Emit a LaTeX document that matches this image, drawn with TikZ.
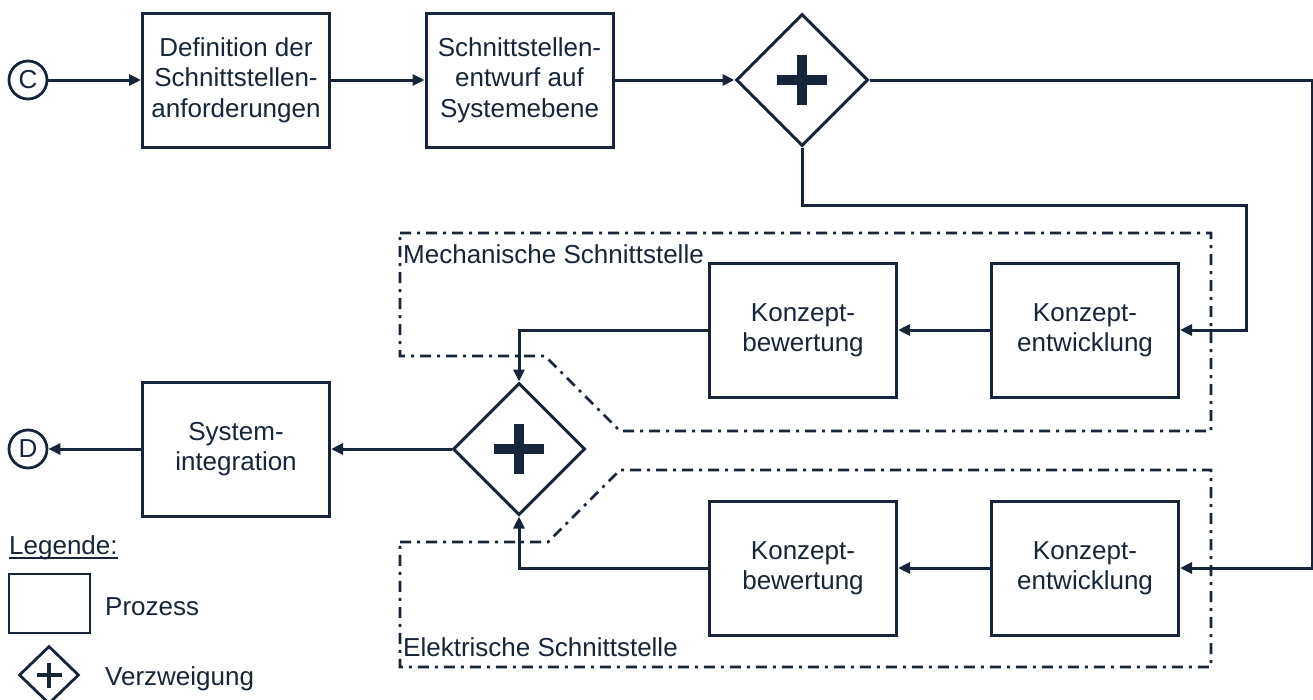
\documentclass[tikz,border=0pt]{standalone}
\usepackage{fontspec}
\setmainfont{Liberation Sans}
\usetikzlibrary{shapes.geometric,arrows.meta}
\definecolor{ink}{HTML}{16253A}

\begin{document}
\begin{tikzpicture}[x=1pt,y=-1pt,
  every node/.style={text=ink},
  txt/.style={font=\fontsize{26}{30.5}\selectfont},
  procbox/.style={txt, draw=ink, line width=3pt, minimum width=187pt,
    minimum height=134pt, align=center, inner sep=0pt},
  gate/.style={draw=ink, line width=3pt, diamond, minimum width=132pt,
    minimum height=132pt, inner sep=0pt},
  plusbar/.style={draw=ink, line width=10pt},
  endpoint/.style={txt, circle, draw=ink, line width=2.8pt, minimum size=38pt,
    inner sep=0pt},
  flow/.style={draw=ink, line width=3pt,
    -{Triangle[length=12pt,width=11pt]}},
  region/.style={draw=ink, line width=2.7pt,
    dash pattern=on 11pt off 6pt on 3pt off 6pt},
  label/.style={txt, inner sep=0pt}
]
\useasboundingbox (0,0) rectangle (1313,699);

% upper row
\node[endpoint] (C) at (28,80) {C};
\node[procbox] (b1) at (236,80) {Definition der\\Schnittstellen-\\anforderungen};
\node[procbox] (b2) at (519.5,80) {Schnittstellen-\\entwurf auf\\Systemebene};
\node[gate] (g1) at (802,80) {};
\draw[plusbar] (g1.center) +(-25,0) -- +(25,0) (g1.center) +(0,-25) -- +(0,25);

% mechanical interface branch
\node[procbox] (ke1) at (1085,330) {Konzept-\\entwicklung};
\node[procbox] (kb1) at (803,330) {Konzept-\\bewertung};

% electrical interface branch
\node[procbox] (ke2) at (1085,568) {Konzept-\\entwicklung};
\node[procbox] (kb2) at (803,568) {Konzept-\\bewertung};

% merge and integration
\node[gate] (g2) at (519,449) {};
\draw[plusbar] (g2.center) +(-25,0) -- +(25,0) (g2.center) +(0,-25) -- +(0,25);
\node[procbox] (si) at (236,449) {System-\\integration};
\node[endpoint] (D) at (28,449) {D};

% routing points
\coordinate (rr) at (1312,80);
\coordinate (j1) at (1246,205);

% connectors
\draw[flow] (C) -- (b1);
\draw[flow] (b1) -- (b2);
\draw[flow] (b2) -- (g1);
\draw[flow] (g1.east) -- (rr) |- (ke2.east);
\draw[flow] (g1.south) |- (j1) |- (ke1.east);
\draw[flow] (ke1) -- (kb1);
\draw[flow] (kb1.west) -| (g2.north);
\draw[flow] (ke2) -- (kb2);
\draw[flow] (kb2.west) -| (g2.south);
\draw[flow] (g2.west) -- (si.east);
\draw[flow] (si.west) -- (D.east);

% interface regions
\draw[region] (400,233) -- (1211,233) -- (1211,431) -- (620,431)
  -- (545,356) -- (400,356) -- cycle;
\draw[region] (400,542) -- (548,542) -- (620,470) -- (1211,470)
  -- (1211,667) -- (400,667) -- cycle;
\node[label, anchor=base west] (mech) at (403,263) {Mechanische Schnittstelle};
\node[label, anchor=base west] (elek) at (403,656) {Elektrische Schnittstelle};

% legend
\node[label, anchor=base west] (leg) at (9,554) {Legende:};
\draw[draw=ink, line width=2pt] ([yshift=-4pt]leg.base west) -- ([yshift=-4pt]leg.base east);
\node[draw=ink, line width=2.8pt, minimum width=81pt, minimum height=59pt,
  inner sep=0pt] (lbox) at (49.5,603.5) {};
\node[label, anchor=base west] (lproc) at (105,615) {Prozess};
\node[draw=ink, line width=2.8pt, diamond, minimum width=60pt,
  minimum height=58pt, inner sep=0pt] (lgate) at (49,675) {};
\draw[draw=ink, line width=4.5pt] (lgate.center) +(-12.5,0) -- +(12.5,0)
  (lgate.center) +(0,-12.5) -- +(0,12.5);
\node[label, anchor=base west] (lverz) at (105,685) {Verzweigung};
\end{tikzpicture}
\end{document}
